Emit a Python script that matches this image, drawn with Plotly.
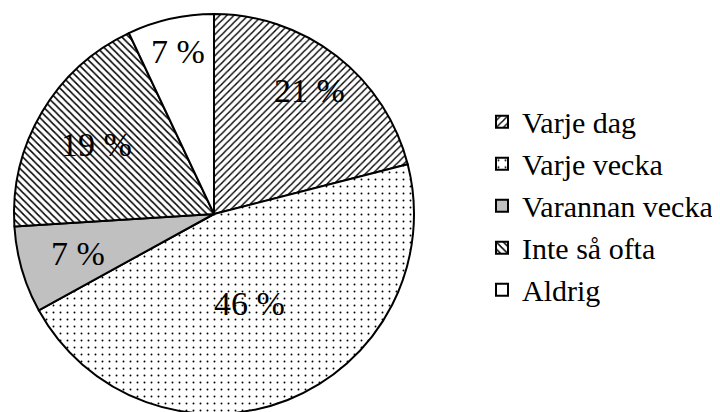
import math
import plotly.graph_objects as go

categories = ["Varje dag", "Varje vecka", "Varannan vecka", "Inte så ofta", "Aldrig"]
percent_values = [21, 46, 7, 19, 7]

fill_colors = ["white", "white", "#c0c0c0", "white", "white"]
pattern_shapes = ["/", ".", "", "\\", ""]
pattern_sizes = [5, 7, 8, 5, 8]
pattern_solidity = [0.28, 0.06, 0.3, 0.3, 0.3]
label_radius_frac = [0.78, 0.48, 0.71, 0.68, 0.83]

W, H = 720, 412
# pie placement in pixels (left, top, diameter)
px_left, px_top, diam = 6, 6, 400
dom_x = [px_left / W, (px_left + diam) / W]
dom_y = [1 - (px_top + diam) / H, 1 - px_top / H]

fig = go.Figure(
    go.Pie(
        labels=categories,
        values=percent_values,
        sort=False,
        direction="clockwise",
        rotation=0,
        textinfo="none",
        marker=dict(
            colors=fill_colors,
            line=dict(color="black", width=2),
            pattern=dict(
                shape=pattern_shapes,
                size=pattern_sizes,
                solidity=pattern_solidity,
                fgcolor="black",
                bgcolor=fill_colors,
                fillmode="replace",
            ),
        ),
        domain=dict(x=dom_x, y=dom_y),
        hoverinfo="label+percent",
    )
)

# percentage labels placed at each slice's mid-angle (derived from the values)
total = sum(percent_values)
cx = (dom_x[0] + dom_x[1]) / 2
cy = (dom_y[0] + dom_y[1]) / 2
r_px = diam / 2
cum = 0
for v, frac in zip(percent_values, label_radius_frac):
    mid = (cum + v / 2) / total * 2 * math.pi
    cum += v
    dx = math.sin(mid) * r_px * frac
    dy = math.cos(mid) * r_px * frac
    fig.add_annotation(
        x=cx + dx / W,
        y=cy + dy / H,
        xref="paper",
        yref="paper",
        text=f"{v} %",
        showarrow=False,
        xanchor="center",
        yanchor="middle",
        font=dict(family="Liberation Serif", size=34, color="black"),
    )

fig.update_layout(
    width=W,
    height=H,
    margin=dict(l=0, r=0, t=0, b=0),
    paper_bgcolor="white",
    plot_bgcolor="white",
    font=dict(family="Liberation Serif", color="black"),
    showlegend=True,
    legend=dict(
        x=474 / W,
        y=0.52,
        xanchor="left",
        yanchor="middle",
        font=dict(family="Liberation Serif", size=30, color="black"),
        bgcolor="rgba(0,0,0,0)",
        tracegroupgap=0,
    ),
)

fig.write_html("out.html")
